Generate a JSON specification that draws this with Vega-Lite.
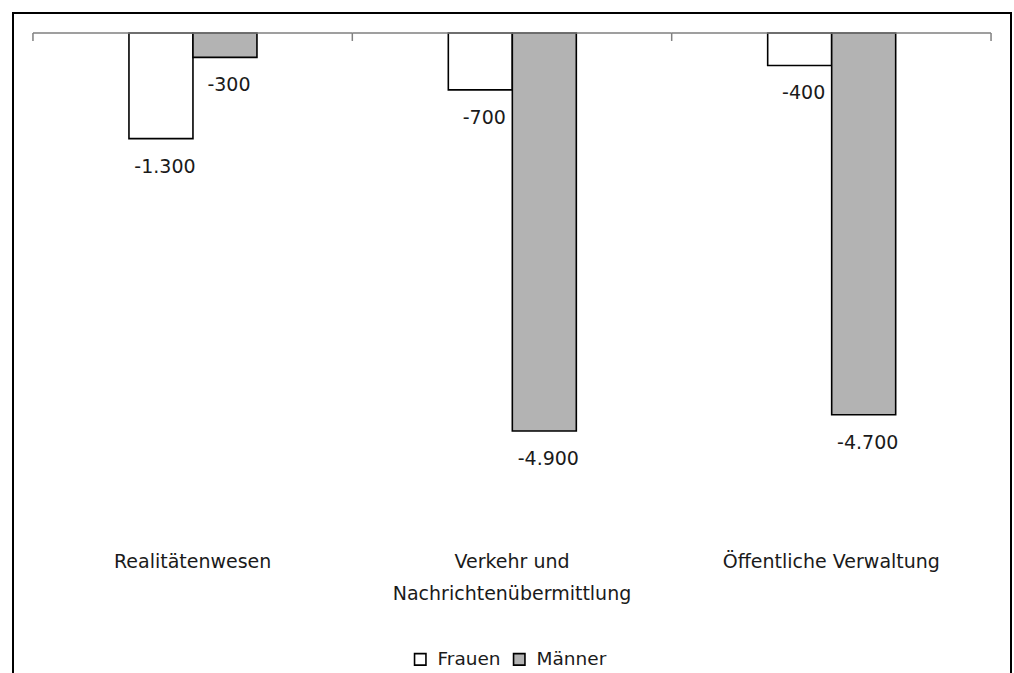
{
  "$schema": "https://vega.github.io/schema/vega-lite/v6.json",
  "width": 998,
  "height": 663,
  "padding": {"left": 13, "top": 13, "right": 3, "bottom": 0},
  "background": "white",
  "data": {
    "values": [
      {"Bereich": "Realitätenwesen", "Geschlecht": "Frauen", "Wert": -1300},
      {"Bereich": "Realitätenwesen", "Geschlecht": "Männer", "Wert": -300},
      {"Bereich": "Verkehr und Nachrichtenübermittlung", "Geschlecht": "Frauen", "Wert": -700},
      {"Bereich": "Verkehr und Nachrichtenübermittlung", "Geschlecht": "Männer", "Wert": -4900},
      {"Bereich": "Öffentliche Verwaltung", "Geschlecht": "Frauen", "Wert": -400},
      {"Bereich": "Öffentliche Verwaltung", "Geschlecht": "Männer", "Wert": -4700}
    ]
  },
  "encoding": {
    "x": {
      "field": "Bereich",
      "type": "nominal",
      "sort": null,
      "scale": {"paddingInner": 0, "paddingOuter": 0.0625},
      "axis": {
        "orient": "bottom",
        "offset": -109,
        "title": null,
        "domain": false,
        "ticks": false,
        "labelAngle": 0,
        "labelPadding": 0,
        "labelBaseline": "alphabetic",
        "labelFont": "DejaVu Sans",
        "labelFontSize": 19,
        "labelLineHeight": 32,
        "labelColor": "#1a1a1a",
        "labelLimit": 400,
        "labelOverlap": false,
        "labelExpr": "datum.label == 'Verkehr und Nachrichtenübermittlung' ? ['Verkehr und', 'Nachrichtenübermittlung'] : datum.label"
      }
    }
  },
  "layer": [
    {
      "mark": {"type": "bar", "stroke": "black", "strokeWidth": 1.6},
      "encoding": {
        "xOffset": {
          "field": "Geschlecht",
          "type": "nominal",
          "sort": ["Frauen", "Männer"],
          "scale": {"paddingInner": 0, "paddingOuter": 0, "range": [96, 224]}
        },
        "y": {
          "field": "Wert",
          "type": "quantitative",
          "scale": {"domain": [-7916.4, 246.2], "nice": false, "zero": false},
          "axis": null
        },
        "color": {
          "field": "Geschlecht",
          "type": "nominal",
          "scale": {"domain": ["Frauen", "Männer"], "range": ["#ffffff", "#b3b3b3"]},
          "legend": {
            "orient": "none",
            "legendX": 398,
            "legendY": 637,
            "direction": "horizontal",
            "title": null,
            "symbolType": "square",
            "symbolSize": 130,
            "symbolStrokeColor": "black",
            "symbolStrokeWidth": 1.6,
            "labelFont": "DejaVu Sans",
            "labelFontSize": 18.5,
            "labelColor": "#1a1a1a",
            "labelOffset": 8,
            "columnPadding": 9,
            "padding": 0
          }
        }
      }
    },
    {
      "mark": {
        "type": "text",
        "font": "DejaVu Sans",
        "fontSize": 19,
        "color": "#1a1a1a",
        "align": "center",
        "baseline": "alphabetic",
        "dx": 4,
        "dy": 34
      },
      "encoding": {
        "xOffset": {
          "field": "Geschlecht",
          "type": "nominal",
          "sort": ["Frauen", "Männer"],
          "scale": {"paddingInner": 0, "paddingOuter": 0, "range": [96, 224]}
        },
        "y": {"field": "Wert", "type": "quantitative"},
        "text": {"field": "Wert", "type": "quantitative", "format": ",d"}
      }
    },
    {
      "transform": [{"filter": "datum.Geschlecht == 'Frauen'"}],
      "mark": {"type": "bar", "fill": null, "fillOpacity": 0, "stroke": "#808080", "strokeWidth": 1.5},
      "encoding": {
        "y": {"datum": 0, "type": "quantitative"},
        "y2": {"datum": 0}
      }
    },
    {
      "transform": [{"filter": "datum.Geschlecht == 'Frauen'"}],
      "mark": {"type": "rule", "color": "#808080", "strokeWidth": 1.5},
      "encoding": {
        "x": {"field": "Bereich", "type": "nominal", "sort": null, "bandPosition": 0},
        "y": {"datum": 0, "type": "quantitative"},
        "y2": {"datum": -98}
      }
    },
    {
      "transform": [{"filter": "datum.Bereich == 'Öffentliche Verwaltung' && datum.Geschlecht == 'Frauen'"}],
      "mark": {"type": "rule", "color": "#808080", "strokeWidth": 1.5},
      "encoding": {
        "x": {"field": "Bereich", "type": "nominal", "sort": null, "bandPosition": 1},
        "y": {"datum": 0, "type": "quantitative"},
        "y2": {"datum": -98}
      }
    }
  ],
  "config": {
    "locale": {
      "number": {"decimal": ",", "thousands": ".", "grouping": [3], "currency": ["", " €"], "minus": "-"}
    },
    "view": {"stroke": "black", "strokeWidth": 2},
    "font": "DejaVu Sans"
  }
}
